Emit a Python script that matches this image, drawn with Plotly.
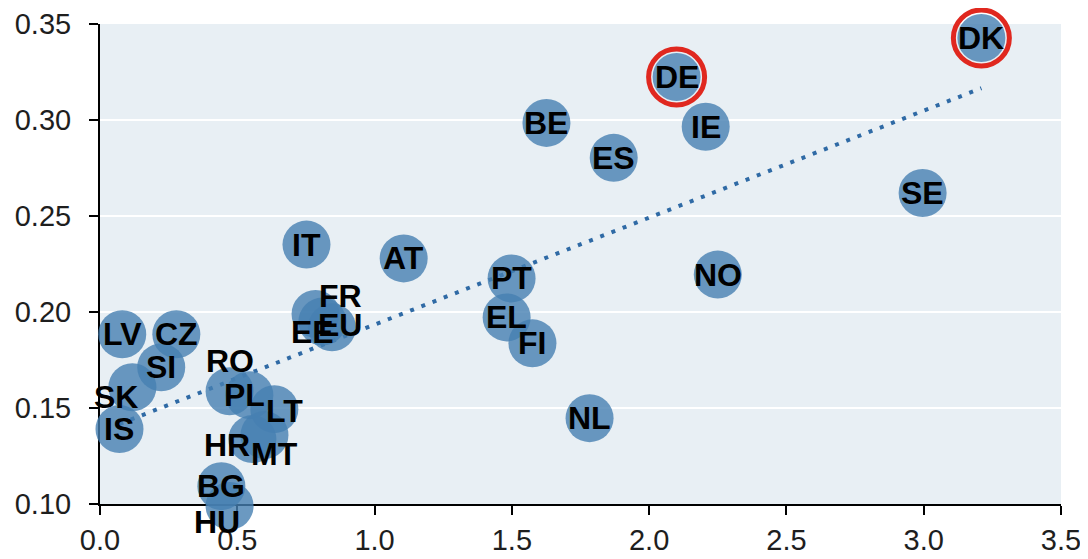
import numpy as np
import plotly.graph_objects as go

# ---- data ----
countries = ["DK", "DE", "IE", "ES", "BE", "SE", "IT", "AT", "PT", "EL", "FI", "NL", "NO",
             "FR", "EE", "EU", "LV", "CZ", "SI", "SK", "IS", "RO", "PL", "LT", "HR", "MT",
             "BG", "HU"]
x_vals = [3.21, 2.10, 2.206, 1.871, 1.626, 2.996, 0.752, 1.106, 1.499, 1.481, 1.575, 1.783, 2.25,
          0.785, 0.81, 0.845, 0.081, 0.278, 0.223, 0.118, 0.071, 0.472, 0.544, 0.635, 0.555, 0.599,
          0.442, 0.472]
y_vals = [0.3427, 0.3224, 0.2965, 0.2803, 0.2985, 0.262, 0.2351, 0.2279, 0.2175, 0.1972, 0.1837,
          0.1447, 0.2195, 0.199, 0.195, 0.192, 0.1884, 0.1884, 0.1712, 0.1608, 0.139, 0.1587,
          0.1567, 0.1494, 0.1338, 0.1359, 0.1093, 0.099]
highlighted = ["DE", "DK"]

x_range = [0, 3.5]
y_range = [0.10, 0.35]

# label offsets in pixels (styling only)
label_offsets = {
    "FR": (25, 18), "EE": (-10, -10), "EU": (8, 2), "SK": (-16, -10), "RO": (0, 30),
    "PL": (-5, 0), "LT": (10, -2), "HR": (-25, -6), "MT": (10, -19), "HU": (-13, -16),
}

x_arr = np.array(x_vals)
y_arr = np.array(y_vals)
slope, intercept = np.polyfit(x_arr, y_arr, 1)
trend_x = np.array([x_arr.min(), x_arr.max()])
trend_y = slope * trend_x + intercept

# layout geometry (pixels); the page body adds an 8px offset
W, H = 1080, 551
m_l, m_r, m_t, m_b = 92, 27, 16, 20
axis_bottom_px = 496                     # y pixel of the visible x axis
area_h = H - m_t - m_b                   # full drawing height
plot_h = axis_bottom_px - m_t            # visible plot height
y_dom0 = (area_h - plot_h) / area_h
# invisible companion axis (same scale, extended downwards) so marks below 0.10 still show
y2_low = y_range[0] - (y_range[1] - y_range[0]) * (area_h - plot_h) / plot_h

fig = go.Figure()

# trend line on the visible axes (drawn beneath the bubbles)
fig.add_trace(go.Scatter(
    x=trend_x, y=trend_y, mode="lines", xaxis="x", yaxis="y",
    line=dict(color="#2f6aa5", width=4, dash="4px,8px"),
    cliponaxis=False, hoverinfo="skip", showlegend=False,
))

fig.add_trace(go.Scatter(
    x=x_vals, y=y_vals, mode="markers", xaxis="x2", yaxis="y2",
    marker=dict(size=48, color="rgb(70,128,178)", opacity=0.8, line=dict(width=0)),
    cliponaxis=False, hoverinfo="skip", showlegend=False,
))

hx = [x_vals[countries.index(c)] for c in highlighted]
hy = [y_vals[countries.index(c)] for c in highlighted]
fig.add_trace(go.Scatter(
    x=hx, y=hy, mode="markers", xaxis="x2", yaxis="y2",
    marker=dict(size=56, color="rgba(0,0,0,0)", line=dict(width=5, color="#e0281f")),
    cliponaxis=False, hoverinfo="skip", showlegend=False,
))

for c, xv, yv in zip(countries, x_vals, y_vals):
    dx, dy = label_offsets.get(c, (0, 0))
    fig.add_annotation(
        x=xv, y=yv, xref="x2", yref="y2", text=c, showarrow=False, xshift=dx, yshift=dy,
        font=dict(family="Arial, Liberation Sans, sans-serif", size=32, color="black", weight="bold"),
    )

# plot background of the visible area only
fig.add_shape(type="rect", xref="x domain", yref="y domain", x0=0, x1=1, y0=0, y1=1,
              fillcolor="#e8eff4", line=dict(width=0), layer="below")

axis_common = dict(
    showline=True, linecolor="black", linewidth=2, mirror=False,
    ticks="outside", ticklen=9, tickwidth=2, tickcolor="black",
    tickfont=dict(family="Arial, Liberation Sans, sans-serif", size=29, color="#1e1e1e"),
    zeroline=False, automargin=False,
)

fig.update_layout(
    width=W, height=H,
    margin=dict(l=m_l, r=m_r, t=m_t, b=m_b),
    plot_bgcolor="rgba(0,0,0,0)", paper_bgcolor="white",
    showlegend=False,
    xaxis=dict(range=x_range, dtick=0.5, tickformat=".1f", showgrid=False, domain=[0, 1],
               anchor="y", **axis_common),
    yaxis=dict(range=y_range, dtick=0.05, tickformat=".2f", showgrid=True, domain=[y_dom0, 1],
               gridcolor="white", gridwidth=2, anchor="x", ticklabelstandoff=12, **axis_common),
    xaxis2=dict(range=x_range, domain=[0, 1], anchor="y2", visible=False, showgrid=False),
    yaxis2=dict(range=[y2_low, y_range[1]], domain=[0, 1], anchor="x2", visible=False,
                showgrid=False),
)

fig.write_html("out.html")
